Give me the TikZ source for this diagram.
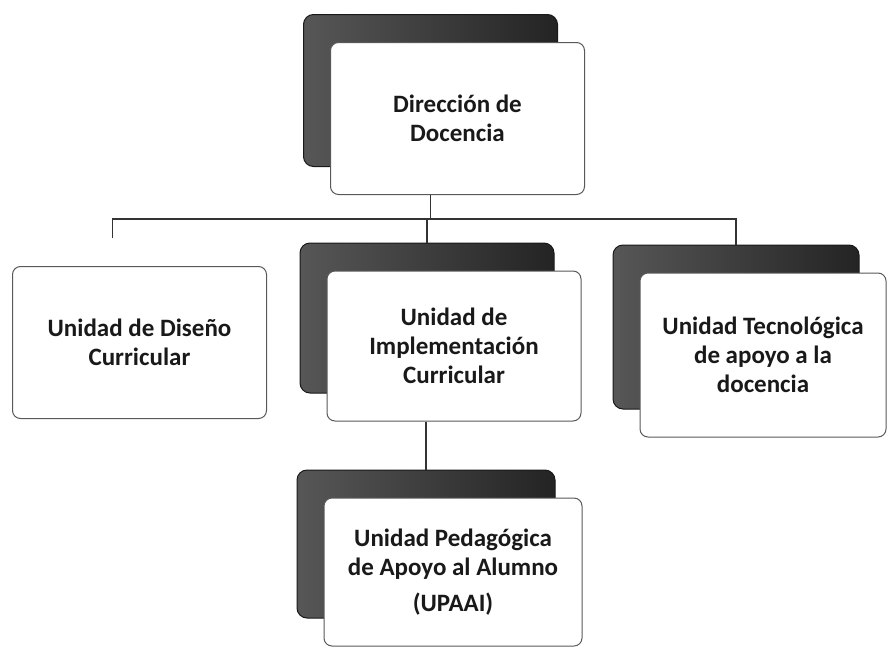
\documentclass[tikz,border=0pt]{standalone}
\usepackage{fontspec}
\setmainfont{Carlito}
\usepackage{tikz}
\usetikzlibrary{calc}
\tikzstyle{frontbox}=[draw=black!65, line width=1pt, fill=white, rounded corners=8pt, minimum width=254pt, minimum height=152pt, inner sep=0pt, align=center, text=black!90, font=\bfseries\fontsize{25}{29}\selectfont]
\tikzstyle{backbox}=[draw=black!90, line width=1pt, left color=black!66, right color=black!86, rounded corners=10pt, minimum width=254pt, minimum height=152pt]
\tikzstyle{link}=[draw=black!80, line width=1.2pt]
\newcommand{\unitBox}[4]{
	\node[backbox, #3] (#1b) at ($#2+(-27,-28)$) {};
	\node[frontbox, #3] (#1) at #2 {#4};
}

\begin{document}
\begin{tikzpicture}[x=1pt, y=-1pt]
	\useasboundingbox (0,0) rectangle (888,648);
	\unitBox{top}{(457.5,118.5)}{}{Dirección de\\Docencia}
	\node[frontbox] (left) at (139.5,342.5) {Unidad de Diseño\\Curricular};
	\unitBox{mid}{(454,346)}{minimum height=150pt}{Unidad de\\Implementación\\Curricular}
	\unitBox{right}{(763,355)}{minimum width=246pt, minimum height=164pt}{Unidad Tecnológica\\de apoyo a la\\docencia}
	\unitBox{bot}{(453,572)}{minimum width=258pt, minimum height=148pt}{Unidad Pedagógica\\de Apoyo al Alumno\\[7pt](UPAAI)}
	\coordinate (bus) at (0,219);
	\coordinate (leftend) at ($(left.north)+(-27,-28)$);
	\draw[link] (topb |- top.south) -- (topb |- bus);
	\draw[link] (leftend) |- (rightb.north |- bus) -- (rightb.north);
	\draw[link] (midb |- bus) -- (midb.north);
	\draw[link] (botb |- mid.south) -- (botb.north);
\end{tikzpicture}
\end{document}
